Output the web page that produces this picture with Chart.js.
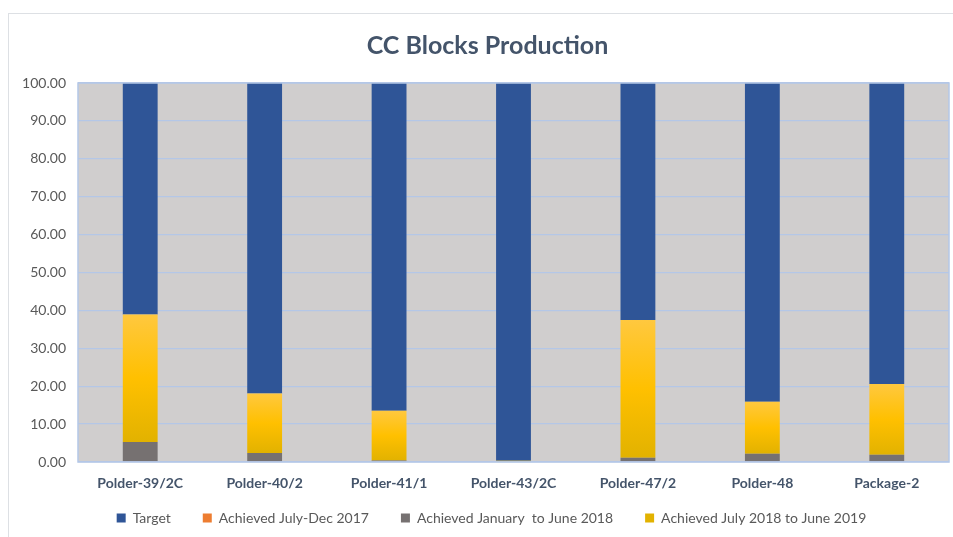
<!DOCTYPE html>
<html>
<head>
<meta charset="utf-8">
<script src="https://cdn.jsdelivr.net/npm/chart.js@4.4.0/dist/chart.umd.min.js"></script>
<style>
  html, body { margin: 0; padding: 0; background: #fff; }
  #card { position: absolute; left: 8px; top: 13px; width: 980px; height: 560px; border: 1px solid #DDE0E4; }
  #wrap { position: absolute; left: 0; top: 0; width: 953px; height: 537px; }
</style>
</head>
<body>
<div id="card"></div>
<div id="wrap"><canvas id="chart" width="953" height="537"></canvas></div>
<script>
var categories = ['Polder-39/2C', 'Polder-40/2', 'Polder-41/1', 'Polder-43/2C', 'Polder-47/2', 'Polder-48', 'Package-2'];
var target = [61.1, 81.9, 86.5, 99.7, 62.5, 84.1, 79.4];
var achievedJulDec2017 = [0, 0, 0, 0, 0, 0, 0];
var achievedJanJun2018 = [5.3, 2.4, 0.4, 0, 1.1, 2.2, 1.9];
var achievedJul2018Jun2019 = [33.6, 15.7, 13.1, 0.3, 36.4, 13.7, 18.7];
var seriesNames = ['Target', 'Achieved July-Dec 2017', 'Achieved January  to June 2018', 'Achieved July 2018 to June 2019'];

var FONT = 'Lato, "Open Sans", sans-serif';

// gold gradient per yellow bar, like the Excel fill
function goldFill(ctx) {
    var chart = ctx.chart;
    var y = chart.scales.y;
    if (ctx.type !== 'data' || !chart.chartArea || !y) return '#FFC000';
    var i = ctx.dataIndex;
    var base = achievedJanJun2018[i] + achievedJulDec2017[i];
    var top = base + achievedJul2018Jun2019[i];
    var y0 = y.getPixelForValue(top), y1 = y.getPixelForValue(base);
    if (y1 - y0 < 2) return '#FFC000';
    var g = chart.ctx.createLinearGradient(0, y0, 0, y1);
    g.addColorStop(0, '#FFC83F');
    g.addColorStop(0.5, '#FFC000');
    g.addColorStop(1, '#E2B200');
    return g;
}

var plotBg = {
    id: 'plotBg',
    beforeDraw: function (chart) {
        var a = chart.chartArea, c = chart.ctx;
        c.save();
        c.fillStyle = '#D0CECE';
        c.fillRect(a.left, a.top, a.right - a.left, a.bottom - a.top);
        c.restore();
    },
    afterDatasetsDraw: function (chart) {
        var a = chart.chartArea, c = chart.ctx;
        c.save();
        c.strokeStyle = '#B4C7E7';
        c.lineWidth = 1.5;
        c.strokeRect(a.left, a.top, a.right - a.left, a.bottom - a.top);
        c.restore();
    }
};

// nudge legend and title into the spots Excel put them
var boxShift = {
    id: 'boxShift',
    afterLayout: function (chart) {
        var L = chart.legend, T = chart.titleBlock;
        if (L) { L.top -= 20; L.left += 17; L.right += 17; }
        if (T) { T.left += 13; T.right += 13; }
    }
};

var ctx = document.getElementById('chart').getContext('2d');
var chart = new Chart(ctx, {
    type: 'bar',
    data: {
        labels: categories,
        datasets: [{
            label: seriesNames[0],
            data: target,
            backgroundColor: '#2F5597',
            order: 4
        }, {
            label: seriesNames[1],
            data: achievedJulDec2017,
            backgroundColor: '#ED7D31',
            order: 2
        }, {
            label: seriesNames[2],
            data: achievedJanJun2018,
            backgroundColor: '#767171',
            order: 1
        }, {
            label: seriesNames[3],
            data: achievedJul2018Jun2019,
            backgroundColor: goldFill,
            order: 3
        }]
    },
    options: {
        responsive: false,
        animation: false,
        categoryPercentage: 1,
        barPercentage: 0.28,
        layout: { padding: { left: 0, right: 4, top: 0, bottom: 0 } },
        scales: {
            x: {
                stacked: true,
                grid: { display: false, drawTicks: false },
                border: { display: false },
                ticks: { padding: 13, color: '#44546A', font: { family: FONT, size: 14, weight: 'bold' } },
                afterFit: function (s) { s.height = 37; }
            },
            y: {
                stacked: true,
                min: 0,
                max: 100,
                grid: { color: '#B4C7E7', lineWidth: 1.3, drawTicks: false },
                border: { display: false },
                ticks: {
                    stepSize: 10,
                    padding: 12,
                    color: '#595959',
                    font: { family: FONT, size: 14 },
                    callback: function (v) { return v.toFixed(2); }
                },
                afterFit: function (s) { s.width = 78; }
            }
        },
        plugins: {
            title: {
                display: true,
                text: 'CC Blocks Production',
                color: '#44546A',
                font: { family: FONT, size: 25, weight: 'bold' },
                padding: { top: 31, bottom: 22 }
            },
            legend: {
                position: 'bottom',
                maxHeight: 38,
                labels: {
                    boxWidth: 9,
                    boxHeight: 9,
                    padding: 32,
                    color: '#595959',
                    font: { family: FONT, size: 14 },
                    sort: function (a, b) { return a.datasetIndex - b.datasetIndex; }
                }
            },
            tooltip: { enabled: false }
        }
    },
    plugins: [plotBg, boxShift]
});
</script>
</body>
</html>
